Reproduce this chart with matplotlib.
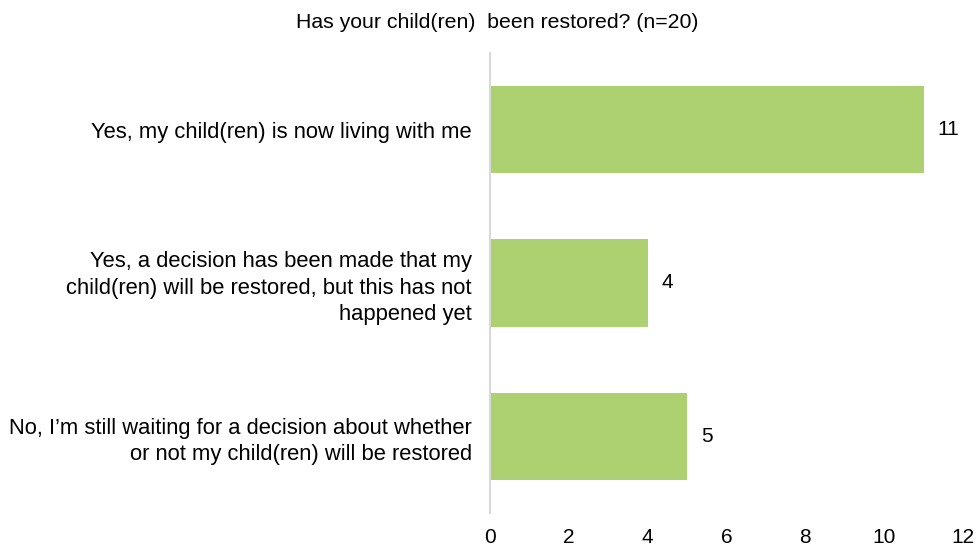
import matplotlib
matplotlib.use("Agg")
import matplotlib.pyplot as plt

plt.rcParams['font.family'] = ['Liberation Sans', 'DejaVu Sans']

# Data
categories = [
    "Yes, my child(ren) is now living with me",
    "Yes, a decision has been made that my\nchild(ren) will be restored, but this has not\nhappened yet",
    "No, I\u2019m still waiting for a decision about whether\nor not my child(ren) will be restored",
]
counts = [11, 4, 5]
x_ticks = [0, 2, 4, 6, 8, 10, 12]
title = "Has your child(ren)  been restored? (n=20)"

bar_color = "#ADD071"
axis_color = "#D9D9D9"

fig = plt.figure(figsize=(9.79, 5.54), dpi=100)
ax = fig.add_axes([490 / 979, 41 / 554, 473 / 979, 460 / 554])

ypos = list(range(len(categories)))
ax.barh(ypos, counts, height=0.57, color=bar_color)

for y, v in zip(ypos, counts):
    ax.annotate(str(v), (v, y), xytext=(10, 0), textcoords="offset points",
                ha="left", va="center", fontsize=15, color="black")

ax.set_xlim(0, 12)
ax.set_ylim(len(categories) - 0.5, -0.5)
ax.set_xticks(x_ticks)
ax.set_xticklabels([str(t) for t in x_ticks], fontsize=15)
ax.set_yticks(ypos)
ax.set_yticklabels(categories, fontsize=15.8, ha="right", linespacing=1.33)
ax.tick_params(axis="both", length=0)
ax.tick_params(axis="y", pad=13)
ax.tick_params(axis="x", pad=11)

for side in ["top", "right", "bottom"]:
    ax.spines[side].set_visible(False)
ax.spines["left"].set_color(axis_color)
ax.spines["left"].set_linewidth(1.5)

fig.text(497 / 979, 1 - 22 / 554, title, ha="center", va="center", fontsize=15.3)

fig.savefig("out.png", dpi=100)
